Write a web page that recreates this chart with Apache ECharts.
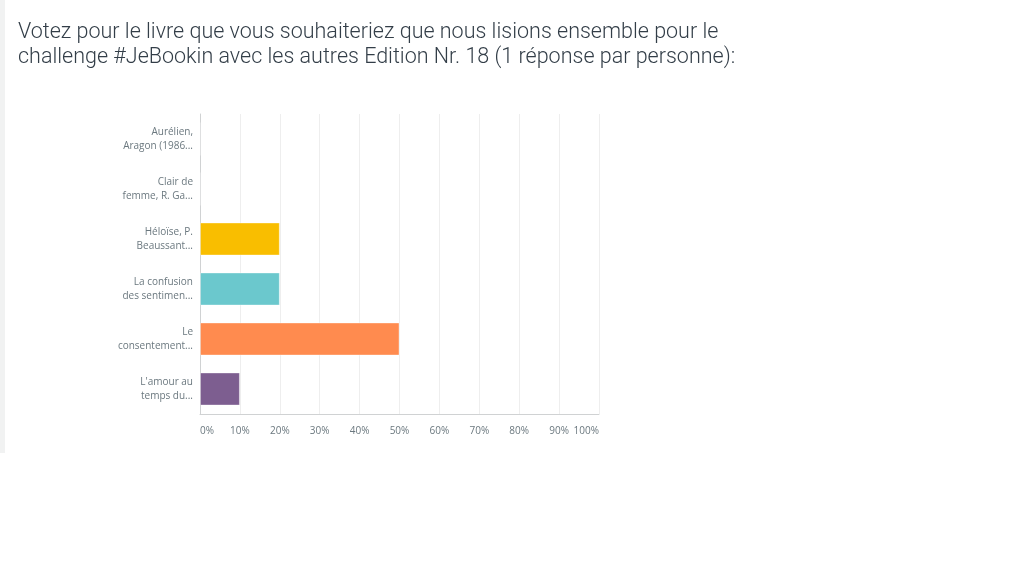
<!DOCTYPE html>
<html>
<head>
<meta charset="utf-8">
<script src="https://cdn.jsdelivr.net/npm/echarts@6/dist/echarts.min.js"></script>
<style>
html,body{margin:0;padding:0;background:#fff;}
#c{width:1024px;height:576px;}
</style>
</head>
<body>
<div id="c"></div>
<script>
const titleLines = [
  "Votez pour le livre que vous souhaiteriez que nous lisions ensemble pour le",
  "challenge #JeBookin avec les autres Edition Nr. 18 (1 réponse par personne):"
];
const categories = [
  "Aurélien,\nAragon (1986...",
  "Clair de\nfemme, R. Ga...",
  "Héloïse, P.\nBeaussant...",
  "La confusion\ndes sentimen...",
  "Le\nconsentement...",
  "L'amour au\ntemps du..."
];
const values = [0, 0, 20, 20, 50, 10];
const barColors = ["#F9BE00", "#F9BE00", "#F9BE00", "#6BC8CD", "#FF8B4F", "#7D5E90"];
const tickLabels = ["0%","10%","20%","30%","40%","50%","60%","70%","80%","90%","100%"];

const chart = echarts.init(document.getElementById('c'), null, {renderer: 'canvas'});
chart.setOption({
  backgroundColor: '#ffffff',
  animation: false,
  graphic: [
    {type: 'rect', left: 0, top: 0, shape: {width: 5, height: 453}, style: {fill: '#f1f2f2'}, z: -1}
  ],
  title: {
    text: titleLines.join('\n'),
    left: 18, top: 20, padding: 0,
    textStyle: {fontFamily: 'Roboto', fontWeight: 300, fontSize: 21.5, lineHeight: 25, color: '#333e48'}
  },
  grid: {left: 200, top: 114, width: 399, height: 300, containLabel: false},
  xAxis: {
    type: 'value', min: 0, max: 100, interval: 10,
    axisLine: {show: true, lineStyle: {color: '#d0d2d3'}},
    axisTick: {show: false},
    splitLine: {show: true, lineStyle: {color: '#eeeeee'}},
    axisLabel: {
      formatter: function(v){ return tickLabels[Math.round(v/10)]; },
      color: '#6b787f', fontFamily: 'Open Sans', fontSize: 10, margin: 12,
      alignMinLabel: 'left', alignMaxLabel: 'right'
    }
  },
  yAxis: {
    type: 'category', data: categories, inverse: true,
    axisLine: {show: true, lineStyle: {color: '#d0d2d3'}},
    axisTick: {show: false},
    axisLabel: {color: '#6b787f', fontFamily: 'Open Sans', fontSize: 10, lineHeight: 14, margin: 7, align: 'right'}
  },
  series: [{
    type: 'bar',
    data: values.map((v, i) => ({value: v, itemStyle: {color: barColors[i]}})),
    barCategoryGap: '34%',
    itemStyle: {borderColor: 'rgba(255,255,255,0.35)', borderWidth: 1}
  }]
});
</script>
</body>
</html>
